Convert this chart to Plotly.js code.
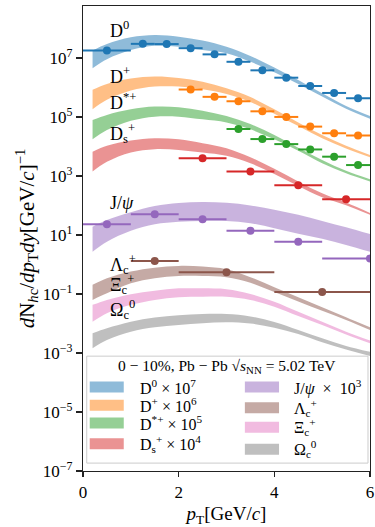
<!DOCTYPE html>
<html>
<head>
<meta charset="utf-8">
<script src="https://cdn.plot.ly/plotly-3.0.1.min.js"></script>
<style>
html,body{margin:0;padding:0;background:#fff;}
#chart{width:375px;height:527px;}
</style>
</head>
<body>
<div id="chart"></div>
<script>
// ---------- model bands (pT grid and lower/upper yields) ----------
const bandPT = [0.2, 0.5, 1.0, 1.5, 2.0, 2.5, 3.0, 3.5, 4.0, 4.5, 5.0, 5.5, 6.0];

const D0_hi  = [1.78e7, 2.95e7, 5.0e7, 6.0e7, 5.25e7, 3.9e7, 2.4e7, 1.17e7, 4.7e6, 1.78e6, 6.3e5, 2.35e5, 1.07e5];
const D0_lo  = [4.5e6, 9.1e6, 1.86e7, 2.57e7, 2.4e7, 1.86e7, 1.45e7, 7.4e6, 3.3e6, 1.32e6, 4.9e5, 1.9e5, 8.7e4];
const Dp_hi  = [8.3e5, 1.32e6, 2.0e6, 2.34e6, 2.09e6, 1.55e6, 9.3e5, 4.7e5, 1.82e5, 6.5e4, 2.45e4, 1.05e4, 5.1e3];
const Dp_lo  = [1.82e5, 3.8e5, 7.8e5, 1.07e6, 1.07e6, 8.7e5, 6.0e5, 3.2e5, 1.29e5, 4.9e4, 1.9e4, 8.5e3, 4.3e3];
const Dst_hi = [7.9e4, 1.17e5, 1.82e5, 2.24e5, 2.14e5, 1.62e5, 1.07e5, 5.75e4, 2.45e4, 9.1e3, 3.5e3, 1.5e3, 7.8e2];
const Dst_lo = [1.74e4, 3.6e4, 7.4e4, 1.02e5, 1.02e5, 8.3e4, 6.5e4, 3.8e4, 1.74e4, 7.1e3, 2.7e3, 1.23e3, 6.5e2];
const Ds_hi  = [6.6e3, 1.05e4, 1.58e4, 1.9e4, 1.74e4, 1.29e4, 8.7e3, 4.3e3, 1.74e3, 6.5e2, 2.57e2, 1.26e2, 56];
const Ds_lo  = [1.41e3, 3.0e3, 6.2e3, 8.1e3, 7.6e3, 6.2e3, 4.8e3, 2.7e3, 1.17e3, 4.6e2, 1.9e2, 1.02e2, 48];
const Jpsi_hi = [19, 32, 59, 95, 120, 132, 123, 100, 71, 48, 30, 18.2, 10.7];
const Jpsi_lo = [2.7, 5.9, 13.8, 23, 28, 30, 30, 25, 17, 11, 7.4, 4.6, 2.7];
const Lc_hi  = [0.204, 0.339, 0.575, 0.776, 0.891, 0.851, 0.692, 0.372, 0.170, 0.0776, 0.0355, 0.0162, 0.0074];
const Lc_lo  = [0.063, 0.105, 0.229, 0.339, 0.407, 0.407, 0.372, 0.240, 0.117, 0.056, 0.0269, 0.0132, 0.0060];
const Xic_hi = [0.0427, 0.063, 0.098, 0.129, 0.155, 0.155, 0.145, 0.100, 0.055, 0.0251, 0.0115, 0.00525, 0.00263];
const Xic_lo = [0.0115, 0.0224, 0.0427, 0.063, 0.078, 0.081, 0.081, 0.063, 0.037, 0.0178, 0.0089, 0.00427, 0.00214];
const Omc_hi = [0.00468, 0.0069, 0.0115, 0.0158, 0.0191, 0.0209, 0.0209, 0.0174, 0.0112, 0.0060, 0.00316, 0.00174, 0.0011];
const Omc_lo = [0.00145, 0.00275, 0.00525, 0.0074, 0.0089, 0.0102, 0.0110, 0.0100, 0.0072, 0.00437, 0.00229, 0.00132, 0.00079];

// ---------- measured points ----------
const D0_pt  = [0.5, 1.25, 1.75, 2.25, 2.75, 3.25, 3.75, 4.25, 4.75, 5.25, 5.75, 6.5];
const D0_ex  = [0.5, 0.25, 0.25, 0.25, 0.25, 0.25, 0.25, 0.25, 0.25, 0.25, 0.25, 0.5];
const D0_y   = [1.78e7, 3.0e7, 2.95e7, 2.14e7, 1.32e7, 7.4e6, 3.8e6, 2.14e6, 1.12e6, 6.5e5, 4.3e5, 2.6e5];
const Dp_pt  = [2.25, 2.75, 3.25, 3.75, 4.25, 4.75, 5.25, 5.75, 6.5];
const Dp_ex  = [0.25, 0.25, 0.25, 0.25, 0.25, 0.25, 0.25, 0.25, 0.5];
const Dp_y   = [8.5e5, 4.8e5, 3.4e5, 1.55e5, 1.0e5, 4.7e4, 2.8e4, 2.35e4, 1.35e4];
const Dst_pt = [3.25, 3.75, 4.25, 4.75, 5.25, 5.75, 6.5];
const Dst_ex = [0.25, 0.25, 0.25, 0.25, 0.25, 0.25, 0.5];
const Dst_y  = [3.9e4, 1.78e4, 1.2e4, 7.9e3, 4.5e3, 2.34e3, 1.74e3];
const Ds_pt  = [2.5, 3.5, 4.5, 5.5];
const Ds_ex  = [0.5, 0.5, 0.5, 0.5];
const Ds_y   = [4.0e3, 1.41e3, 4.8e2, 1.62e2];
const Jpsi_pt = [0.5, 1.5, 2.5, 3.5, 4.5, 6.0];
const Jpsi_ex = [0.5, 0.5, 0.5, 0.5, 0.5, 1.0];
const Jpsi_y  = [22.9, 50, 34, 13.8, 5.9, 1.6];
const Lc_pt  = [1.5, 3.0, 5.0];
const Lc_ex  = [0.5, 1.0, 1.0];
const Lc_y   = [1.32, 0.55, 0.117];

// ---------- labels ----------
const curveLabels = ['D<sup>0</sup>', 'D<sup>+</sup>', 'D<sup>*+</sup>', 'D<sub>s</sub><sup>+</sup>',
                     'J/<i>ψ</i>', 'Λ<sub>c</sub><sup>+</sup>', 'Ξ<sub>c</sub><sup>+</sup>', 'Ω<sub>c</sub><sup>0</sup>'];
const legendLabels = ['D<sup>0</sup> × 10<sup>7</sup>', 'D<sup>+</sup> × 10<sup>6</sup>',
                      'D<sup>*+</sup> × 10<sup>5</sup>', 'D<sub>s</sub><sup>+</sup> × 10<sup>4</sup>',
                      'J/<i>ψ</i>  ×  10<sup>3</sup>', 'Λ<sub>c</sub><sup>+</sup>',
                      'Ξ<sub>c</sub><sup>+</sup>', 'Ω<sub>c</sub><sup>0</sup>'];
const legendTitle = '0 − 10%, Pb − Pb √<i>s</i><sub>NN</sub> = 5.02 TeV';
const yTickVals = [1e-7, 1e-5, 1e-3, 1e-1, 1e1, 1e3, 1e5, 1e7];
const yTickText = ['10<sup>−7</sup>', '10<sup>−5</sup>', '10<sup>−3</sup>', '10<sup>−1</sup>',
                   '10<sup>1</sup>', '10<sup>3</sup>', '10<sup>5</sup>', '10<sup>7</sup>'];
const xTickVals = [0, 2, 4, 6];

// ---------- styling ----------
const colors = ['#1f77b4', '#ff7f0e', '#2ca02c', '#d62728', '#9467bd', '#8c564b', '#e377c2', '#7f7f7f'];
function rgba(hex, a) {
  const r = parseInt(hex.slice(1,3),16), g = parseInt(hex.slice(3,5),16), b = parseInt(hex.slice(5,7),16);
  return 'rgba(' + r + ',' + g + ',' + b + ',' + a + ')';
}
const FONT = 'Liberation Serif, DejaVu Serif, serif';

const bands = [[D0_lo, D0_hi], [Dp_lo, Dp_hi], [Dst_lo, Dst_hi], [Ds_lo, Ds_hi],
               [Jpsi_lo, Jpsi_hi], [Lc_lo, Lc_hi], [Xic_lo, Xic_hi], [Omc_lo, Omc_hi]];
const points = [[D0_pt, D0_ex, D0_y, 0], [Dp_pt, Dp_ex, Dp_y, 1], [Dst_pt, Dst_ex, Dst_y, 2],
                [Ds_pt, Ds_ex, Ds_y, 3], [Jpsi_pt, Jpsi_ex, Jpsi_y, 4], [Lc_pt, Lc_ex, Lc_y, 5]];

const traces = [];
bands.forEach(function (b, i) {
  traces.push({x: bandPT, y: b[0], mode: 'lines', line: {width: 0, shape: 'spline'},
               hoverinfo: 'skip', showlegend: false});
  traces.push({x: bandPT, y: b[1], mode: 'lines', line: {width: 0, shape: 'spline'},
               fill: 'tonexty', fillcolor: rgba(colors[i], 0.5), name: legendLabels[i], showlegend: false});
});
points.forEach(function (p) {
  const c = colors[p[3]];
  traces.push({x: p[0], y: p[2], mode: 'markers', marker: {color: c, size: 8},
               error_x: {type: 'data', array: p[1], color: c, thickness: 2, width: 0},
               showlegend: false});
});

// curve labels (positions in axis units: pT, log10 yield)
const labelPos = [[0.52, 7.97], [0.52, 6.39], [0.52, 5.53], [0.52, 4.44],
                  [0.52, 2.08], [0.52, 0.0], [0.52, -0.69], [0.52, -1.51]];
const annotations = [];
curveLabels.forEach(function (t, i) {
  annotations.push({x: labelPos[i][0], y: labelPos[i][1], xref: 'x', yref: 'y', text: t,
                    showarrow: false, xanchor: 'left', yanchor: 'middle',
                    font: {family: FONT, size: 18, color: '#000'}});
});

// hand-drawn legend (paper coordinates)
const shapes = [{type: 'rect', xref: 'paper', yref: 'paper', x0: 0.013, x1: 0.993, y0: 0.017, y1: 0.247,
                 line: {color: '#cccccc', width: 1}, fillcolor: 'rgba(255,255,255,0.8)', layer: 'above'}];
annotations.push({x: 0.503, y: 0.224, xref: 'paper', yref: 'paper', text: legendTitle, showarrow: false,
                  xanchor: 'center', yanchor: 'middle', font: {family: FONT, size: 15.5, color: '#000'}});
const legRowsY = [[0.1806, 0.1413, 0.1032, 0.0587], [0.1806, 0.1359, 0.0942, 0.0469]];
const legColX = [[0.0234, 0.142, 0.192], [0.564, 0.683, 0.727]];
for (let i = 0; i < 8; i++) {
  const col = i < 4 ? 0 : 1, row = i % 4;
  const yc = legRowsY[col][row];
  shapes.push({type: 'rect', xref: 'paper', yref: 'paper', x0: legColX[col][0], x1: legColX[col][1],
               y0: yc - 0.0118, y1: yc + 0.0118, line: {width: 0},
               fillcolor: rgba(colors[i], 0.5), layer: 'above'});
  annotations.push({x: legColX[col][2], y: yc, xref: 'paper', yref: 'paper', text: legendLabels[i],
                    showarrow: false, xanchor: 'left', yanchor: 'middle',
                    font: {family: FONT, size: 16, color: '#000'}});
}

const axisCommon = {showline: true, mirror: true, linecolor: '#222', linewidth: 1.2,
                    ticks: 'outside', tickcolor: '#222', tickwidth: 1.2, showgrid: false, zeroline: false,
                    tickfont: {family: FONT, size: 17, color: '#000'}};

const layout = {
  width: 375, height: 527,
  margin: {l: 83, r: 5, t: 6, b: 56},
  paper_bgcolor: '#fff', plot_bgcolor: '#fff',
  font: {family: FONT, color: '#000'},
  showlegend: false,
  xaxis: Object.assign({}, axisCommon, {
    range: [0, 6], tickvals: xTickVals, ticklen: 5,
    title: {text: '<i>p</i><sub>T</sub>[GeV/<i>c</i>]', font: {family: FONT, size: 19}, standoff: 6}
  }),
  yaxis: Object.assign({}, axisCommon, {
    type: 'log', range: [-7, 8.76], tickvals: yTickVals, ticktext: yTickText, ticklen: 6,
    title: {text: '<i>d</i>N<sub><i>h</i>c</sub>/<i>dp</i><sub>T</sub><i>dy</i>[GeV/<i>c</i>]<sup>−1</sup>',
            font: {family: FONT, size: 21}, standoff: 2}
  }),
  shapes: shapes,
  annotations: annotations
};

Plotly.newPlot('chart', traces, layout, {displayModeBar: false, staticPlot: true});
</script>
</body>
</html>
